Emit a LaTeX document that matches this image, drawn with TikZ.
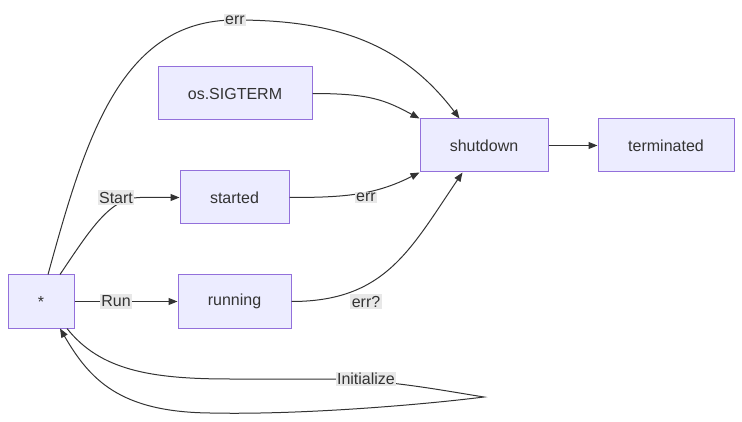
\documentclass[tikz,border=0pt]{standalone}
\usepackage{fontspec}
\setmainfont{Liberation Sans}
\usetikzlibrary{arrows.meta}
\definecolor{nodefill}{HTML}{ECECFF}
\definecolor{nodeborder}{HTML}{9370DB}
\definecolor{ink}{HTML}{333333}
\definecolor{lblfill}{HTML}{E8E8E8}
\begin{document}
\begin{tikzpicture}[x=1pt,y=-1pt,
  state/.style={draw=nodeborder,fill=nodefill,line width=1pt,text=ink,inner sep=0pt,
    font=\fontsize{16}{19}\selectfont},
  edge/.style={draw=ink,line width=1pt,-{Triangle[length=9pt,width=7pt]}},
  lbl/.style={fill=lblfill,text=ink,inner sep=1.5pt,font=\fontsize{16}{19}\selectfont}]
\useasboundingbox (0,0) rectangle (742,422);
\node[state,minimum width=66pt,minimum height=53pt] (star) at (41,301.5) {*};
\node[state,minimum width=154pt,minimum height=53pt] (sigterm) at (235,93.5) {os.SIGTERM};
\node[state,minimum width=109pt,minimum height=53pt] (started) at (234.5,197.5) {started};
\node[state,minimum width=113pt,minimum height=53pt] (running) at (234.5,301.5) {running};
\node[state,minimum width=128pt,minimum height=53pt] (shutdown) at (484,145.5) {shutdown};
\node[state,minimum width=136pt,minimum height=53pt] (terminated) at (666,145.5) {terminated};
% edges
\draw[edge] ([xshift=7pt]star.north) .. controls (85,140) and (120,20) .. (235,20)
  .. controls (330,20) and (400,40) .. ([xshift=40pt]shutdown.north west);
\draw[edge] (sigterm.east) .. controls (370,93.5) and (385,100) .. (shutdown.north west);
\draw[edge] ([xshift=19pt]star.north) .. controls (90,230) and (110,197.5) .. (140,197.5) -- (started.west);
\draw[edge] (star.east) -- (running.west);
\draw[edge] (started.east) .. controls (345,197.5) and (375,195) .. (shutdown.south west);
\draw[edge] (running.east) .. controls (385,301.5) and (410,250) .. ([xshift=43pt]shutdown.south west);
\draw[edge] (shutdown.east) -- (terminated.west);
\draw[edge] ([xshift=26pt]star.south) .. controls (100,370) and (150,379) .. (230,379) -- (340,379)
  .. controls (400,382) and (440,390) .. (484,397)
  .. controls (420,405) and (300,415) .. (210,413)
  .. controls (120,412) and (90,380) .. ([xshift=19pt]star.south);
% labels
\node[lbl] (lerr1) at (235,20) {err};
\node[lbl] (lstart) at (116,197.5) {Start};
\node[lbl] (lrun) at (116,301.5) {Run};
\node[lbl] (lerr2) at (366,197.5) {err};
\node[lbl] (lerr3) at (366,301.5) {err?};
\node[lbl] (linit) at (366,379) {Initialize};
\end{tikzpicture}
\end{document}
